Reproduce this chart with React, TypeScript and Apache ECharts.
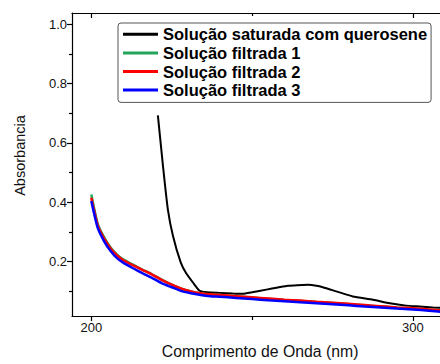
import React, { useEffect, useRef } from "react";
import * as echarts from "echarts";

const seriesNames = [
  "Solução saturada com querosene",
  "Solução filtrada 1",
  "Solução filtrada 2",
  "Solução filtrada 3",
];
const seriesColors = ["#000000", "#23a65a", "#ff0000", "#0000ff"];

const blackWavelength = [220.7, 222.3, 223.8, 225.4, 227.8, 229.5, 231.6, 233.7, 236, 240, 244, 247, 250, 254.4, 258, 261.1, 264, 267.4, 270, 272, 276.2, 281.3, 287.6, 292.8, 297.9, 302, 306.2, 311];
const blackAbs = [0.693, 0.521, 0.376, 0.286, 0.197, 0.16, 0.129, 0.101, 0.096, 0.094, 0.092, 0.091, 0.096, 0.105, 0.112, 0.118, 0.12, 0.121, 0.118, 0.113, 0.099, 0.082, 0.071, 0.059, 0.051, 0.048, 0.045, 0.043];

const filtWavelength = [200, 202, 204, 206, 208, 210, 213, 216, 219, 222, 225, 228, 231, 234, 237, 240, 245, 250, 255, 260, 265, 270, 275, 280, 285, 290, 295, 300, 305, 311];
const filt1Abs = [0.426, 0.327, 0.281, 0.247, 0.223, 0.206, 0.189, 0.172, 0.156, 0.138, 0.122, 0.108, 0.099, 0.092, 0.088, 0.086, 0.082, 0.078, 0.074, 0.07, 0.067, 0.063, 0.06, 0.056, 0.052, 0.048, 0.044, 0.041, 0.037, 0.032];
const filt2Abs = [0.415, 0.322, 0.277, 0.244, 0.22, 0.204, 0.187, 0.171, 0.155, 0.137, 0.122, 0.108, 0.099, 0.093, 0.089, 0.087, 0.083, 0.079, 0.075, 0.071, 0.068, 0.064, 0.061, 0.057, 0.053, 0.049, 0.045, 0.042, 0.038, 0.033];
const filt3Abs = [0.404, 0.313, 0.268, 0.235, 0.211, 0.195, 0.177, 0.16, 0.144, 0.126, 0.113, 0.1, 0.093, 0.087, 0.083, 0.081, 0.077, 0.073, 0.069, 0.066, 0.062, 0.059, 0.056, 0.052, 0.048, 0.045, 0.041, 0.038, 0.034, 0.028];

const xMajorTicks = [200, 300];
const xMinorTicks = [250];
const yMajorTicks = [0.2, 0.4, 0.6, 0.8, 1.0];
const yMinorTicks = [0.1, 0.3, 0.5, 0.7, 0.9];

const X_MIN = 194;
const X_MAX = 311;
const Y_MIN = 0.016;
const Y_MAX = 1.038;

const FONT = "'Liberation Sans', Arial, sans-serif";

function pair(xs: number[], ys: number[]) {
  return xs.map((x, i) => [x, ys[i]]);
}

export default function App() {
  const ref = useRef<HTMLDivElement>(null);
  useEffect(() => {
    if (!ref.current) return;
    const chart = echarts.init(ref.current, undefined, { renderer: "svg" });
    const axisBase = {
      type: "value" as const,
      min: X_MIN,
      max: X_MAX,
      splitLine: { show: false },
    };
    const yBase = {
      type: "value" as const,
      min: Y_MIN,
      max: Y_MAX,
      splitLine: { show: false },
    };
    const lineStyle = { color: "#000", width: 1.2 };
    chart.setOption({
      animation: false,
      backgroundColor: "#ffffff",
      grid: { left: 72, top: 13, right: 1.7, bottom: 47, containLabel: false },
      legend: {
        left: 118,
        top: 23,
        orient: "vertical",
        icon: "rect",
        itemWidth: 35,
        itemHeight: 3,
        itemGap: 0,
        padding: [2, 4, 3, 5],
        backgroundColor: "#ffffff",
        borderColor: "#555555",
        borderWidth: 1,
        borderRadius: 3,
        textStyle: {
          fontFamily: FONT,
          fontWeight: "bold",
          fontSize: 16.5,
          lineHeight: 18.6,
          color: "#000",
        },
        data: seriesNames,
      },
      xAxis: [
        {
          ...axisBase,
          position: "bottom",
          name: "Comprimento de Onda (nm)",
          nameLocation: "middle",
          nameGap: 27,
          nameTextStyle: { fontFamily: FONT, fontSize: 15.8, color: "#111" },
          axisLine: { show: true, lineStyle },
          axisTick: { show: true, inside: false, length: 5, lineStyle, customValues: xMajorTicks },
          axisLabel: { show: true, margin: 5, fontFamily: FONT, fontSize: 13, color: "#111", customValues: xMajorTicks },
        },
        {
          ...axisBase,
          position: "bottom",
          axisLine: { show: false },
          axisTick: { show: true, inside: false, length: 4, lineStyle, customValues: xMinorTicks },
          axisLabel: { show: false },
        },
        {
          ...axisBase,
          position: "top",
          axisLine: { show: true, lineStyle },
          axisTick: { show: true, inside: true, length: 5, lineStyle, customValues: xMajorTicks },
          axisLabel: { show: false },
        },
        {
          ...axisBase,
          position: "top",
          axisLine: { show: false },
          axisTick: { show: true, inside: true, length: 3, lineStyle, customValues: xMinorTicks },
          axisLabel: { show: false },
        },
      ],
      yAxis: [
        {
          ...yBase,
          position: "left",
          name: "Absorbancia",
          nameLocation: "middle",
          nameGap: 45,
          nameTextStyle: { fontFamily: FONT, fontSize: 14.5, color: "#111", padding: [0, 0, 0, 18] },
          axisLine: { show: true, lineStyle },
          axisTick: { show: true, inside: false, length: 5, lineStyle, customValues: yMajorTicks },
          axisLabel: {
            show: true,
            margin: 5,
            fontFamily: FONT,
            fontSize: 13,
            color: "#111",
            customValues: yMajorTicks,
            formatter: (v: number) => v.toFixed(1),
          },
        },
        {
          ...yBase,
          position: "left",
          axisLine: { show: false },
          axisTick: { show: true, inside: false, length: 3, lineStyle, customValues: yMinorTicks },
          axisLabel: { show: false },
        },
      ],
      series: [
        {
          name: seriesNames[0],
          type: "line",
          data: pair(blackWavelength, blackAbs),
          symbol: "none",
          smooth: 0.2,
          lineStyle: { color: seriesColors[0], width: 2 },
          itemStyle: { color: seriesColors[0] },
        },
        {
          name: seriesNames[1],
          type: "line",
          data: pair(filtWavelength, filt1Abs),
          symbol: "none",
          smooth: 0.2,
          lineStyle: { color: seriesColors[1], width: 2.5 },
          itemStyle: { color: seriesColors[1] },
        },
        {
          name: seriesNames[2],
          type: "line",
          data: pair(filtWavelength, filt2Abs),
          symbol: "none",
          smooth: 0.2,
          lineStyle: { color: seriesColors[2], width: 2.5 },
          itemStyle: { color: seriesColors[2] },
        },
        {
          name: seriesNames[3],
          type: "line",
          data: pair(filtWavelength, filt3Abs),
          symbol: "none",
          smooth: 0.2,
          lineStyle: { color: seriesColors[3], width: 2.5 },
          itemStyle: { color: seriesColors[3] },
        },
      ],
    });
    return () => chart.dispose();
  }, []);
  return (
    <div style={{ position: "fixed", left: 0, top: 0, width: 440, height: 364, overflow: "hidden", background: "#fff" }}>
      <div ref={ref} style={{ width: 450, height: 364 }} />
    </div>
  );
}
